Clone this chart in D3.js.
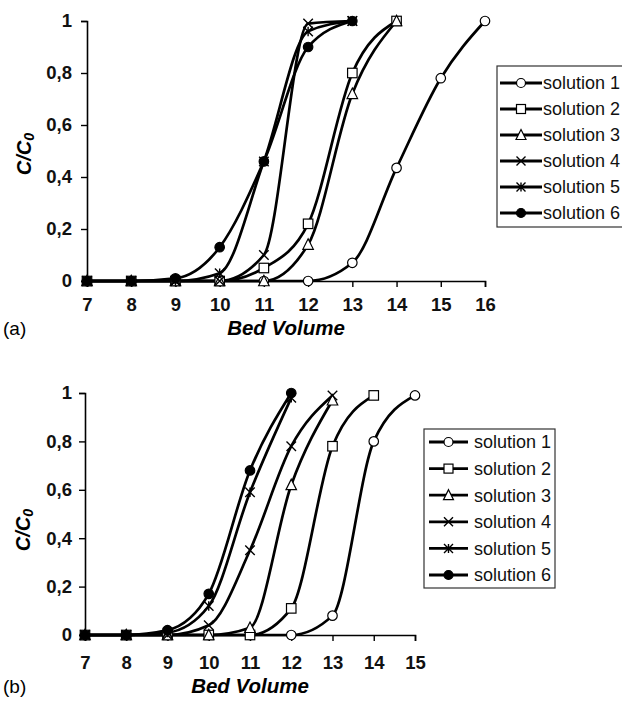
<!DOCTYPE html>
<html>
<head>
<meta charset="utf-8">
<script src="https://cdn.jsdelivr.net/npm/d3@7"></script>
<style>
  body { margin: 0; background: #fff; }
  svg { display: block; font-family: "Liberation Sans", Arial, sans-serif; }
</style>
</head>
<body>
<svg id="chart" width="622" height="701"></svg>
<script>
const solutions = ['solution 1', 'solution 2', 'solution 3', 'solution 4', 'solution 5', 'solution 6'];
const markers = ['circle', 'square', 'triangle', 'cross', 'star', 'dot'];
const yTicks = [0, 0.2, 0.4, 0.6, 0.8, 1];

// panel (a)
const bedA = [7, 8, 9, 10, 11, 12, 13, 14, 15, 16];
const a1 = [0, 0, 0, 0, 0, 0, 0.07, 0.435, 0.78, 1.0];
const a2 = [0, 0, 0, 0, 0.05, 0.22, 0.8, 1.0];
const a3 = [0, 0, 0, 0, 0, 0.14, 0.72, 1.0];
const a4 = [0, 0, 0, 0, 0.1, 0.99, 1.0];
const a5 = [0, 0, 0, 0.03, 0.46, 0.96, 1.0];
const a6 = [0, 0, 0.01, 0.13, 0.46, 0.9, 1.0];

// panel (b)
const bedB = [7, 8, 9, 10, 11, 12, 13, 14, 15];
const b1 = [0, 0, 0, 0, 0, 0, 0.08, 0.8, 0.99];
const b2 = [0, 0, 0, 0, 0, 0.11, 0.78, 0.99];
const b3 = [0, 0, 0, 0, 0.03, 0.62, 0.97];
const b4 = [0, 0, 0, 0.04, 0.35, 0.78, 0.99];
const b5 = [0, 0, 0.01, 0.12, 0.59, 0.98];
const b6 = [0, 0, 0.02, 0.17, 0.68, 1.0];

const svg = d3.select('#chart');

function drawMarker(g, type, size) {
  const r = size / 2;
  if (type === 'circle' || type === 'dot') {
    g.append('circle').attr('r', r)
      .attr('fill', type === 'dot' ? '#000' : '#fff')
      .attr('stroke', '#000').attr('stroke-width', 1.2);
  } else if (type === 'square') {
    g.append('rect').attr('x', -r).attr('y', -r).attr('width', size).attr('height', size)
      .attr('fill', '#fff').attr('stroke', '#000').attr('stroke-width', 1.2);
  } else if (type === 'triangle') {
    g.append('path').attr('d', `M0,${-r - 1}L${r + 0.5},${r}L${-r - 0.5},${r}Z`)
      .attr('fill', '#fff').attr('stroke', '#000').attr('stroke-width', 1.2);
  } else {
    let d = `M${-r},${-r}L${r},${r}M${-r},${r}L${r},${-r}`;
    if (type === 'star') d += `M0,${-r}L0,${r}`;
    g.append('path').attr('d', d).attr('fill', 'none')
      .attr('stroke', '#000').attr('stroke-width', 1.4);
  }
}

function drawPanel(p) {
  const x = d3.scaleLinear().domain(d3.extent(p.bed)).range([p.left, p.right]);
  const y = d3.scaleLinear().domain([0, 1]).range([p.bottom, p.top]);
  const g = svg.append('g');

  const fmt = d => String(d).replace('.', ',');

  const yAxis = g.append('g')
    .attr('transform', `translate(${p.left},0)`)
    .call(d3.axisLeft(y).tickValues(yTicks).tickFormat(fmt).tickSizeOuter(0).tickSize(6).tickPadding(p.yPad));
  const xAxis = g.append('g')
    .attr('transform', `translate(0,${p.bottom})`)
    .call(d3.axisBottom(x).tickValues(p.bed).tickFormat(d3.format('d')).tickSizeOuter(0).tickSize(6).tickPadding(p.xPad));
  [xAxis, yAxis].forEach(a => {
    a.select('.domain').attr('stroke', '#000').attr('stroke-width', 1.6);
    a.selectAll('.tick line').attr('stroke', '#000').attr('stroke-width', 1.4);
    a.selectAll('.tick text').attr('fill', '#111')
      .style('font-size', '18.5px').style('font-weight', 'bold')
      .style('font-family', '"Liberation Sans", Arial, sans-serif');
  });

  const line = d3.line()
    .x((d, i) => x(p.bed[i]))
    .y(d => y(d))
    .curve(d3.curveMonotoneX);

  p.series.forEach(vals => {
    g.append('path').attr('d', line(vals)).attr('fill', 'none')
      .attr('stroke', '#000').attr('stroke-width', 2.7);
  });
  p.series.forEach((vals, k) => {
    vals.forEach((v, i) => {
      const m = g.append('g').attr('transform', `translate(${x(p.bed[i])},${y(v)})`);
      drawMarker(m, markers[k], 9.5);
    });
  });

  // axis titles
  const yt = g.append('text')
    .attr('transform', `translate(${p.yTitle[0]},${p.yTitle[1]}) rotate(-90)`)
    .attr('text-anchor', 'middle').attr('dominant-baseline', 'central')
    .style('font-size', '20px').style('font-weight', 'bold').style('font-style', 'italic');
  yt.append('tspan').text('C/C');
  yt.append('tspan').text('0').style('font-size', '14px').attr('dy', 5);

  g.append('text').attr('x', (p.left + p.right) / 2).attr('y', p.xTitleY)
    .attr('text-anchor', 'middle')
    .style('font-size', '20.5px').style('font-weight', 'bold').style('font-style', 'italic')
    .text('Bed Volume');
  g.append('text').attr('x', 3).attr('y', p.xTitleY)
    .style('font-size', '19px').text(p.tag);

  // legend
  const lg = g.append('g').attr('transform', `translate(${p.legend.x},${p.legend.y})`);
  lg.append('rect').attr('width', p.legend.w).attr('height', p.legend.h)
    .attr('fill', '#fff').attr('stroke', '#333').attr('stroke-width', 1.2);
  solutions.forEach((s, k) => {
    const row = lg.append('g').attr('transform', `translate(0,${p.legend.row0 + k * p.legend.dy})`);
    row.append('line').attr('x1', p.legend.l1).attr('x2', p.legend.l2)
      .attr('stroke', '#000').attr('stroke-width', 2.8);
    const m = row.append('g').attr('transform', `translate(${(p.legend.l1 + p.legend.l2) / 2},0)`);
    drawMarker(m, markers[k], 9);
    row.append('text').attr('x', p.legend.tx).attr('dy', '0.35em')
      .style('font-size', '18px').attr('fill', '#111').text(s);
  });
}

drawPanel({
  tag: '(a)', bed: bedA, series: [a1, a2, a3, a4, a5, a6],
  left: 87, right: 485, top: 21, bottom: 281,
  yPad: 9, xPad: 11, yTitle: [24, 154], xTitleY: 335,
  legend: { x: 497, y: 66, w: 130, h: 161, row0: 17, dy: 26, l1: 3, l2: 45, tx: 46 }
});

drawPanel({
  tag: '(b)', bed: bedB, series: [b1, b2, b3, b4, b5, b6],
  left: 85, right: 415, top: 393, bottom: 635,
  yPad: 7, xPad: 15, yTitle: [23, 530], xTitleY: 693,
  legend: { x: 424, y: 429, w: 131, h: 159, row0: 13, dy: 26.6, l1: 5, l2: 44, tx: 50 }
});
</script>
</body>
</html>
